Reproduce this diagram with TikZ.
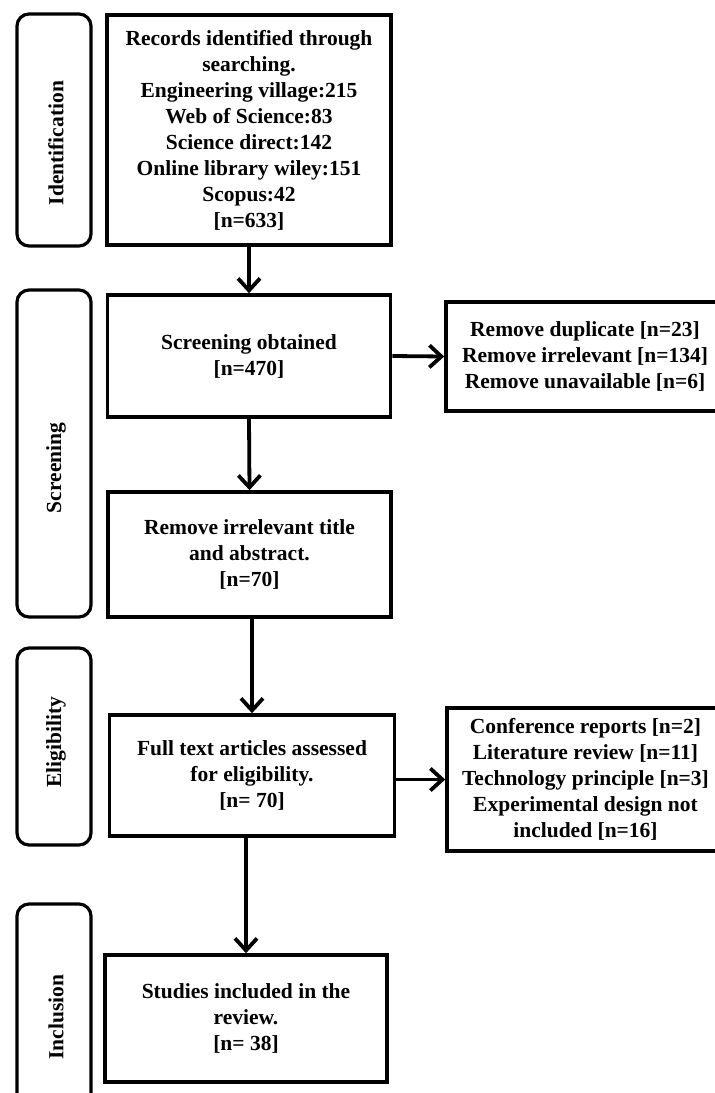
\documentclass[tikz,border=0pt]{standalone}
\usepackage{fontspec}
\setmainfont{Liberation Serif}
\usetikzlibrary{arrows.meta}
\begin{document}
\begin{tikzpicture}[x=1pt,y=-1pt,
  every node/.style={font=\bfseries\fontsize{21.5}{26}\selectfont, align=center, inner sep=0pt},
  mainbox/.style={draw, line width=3.6pt, rectangle},
  phasebox/.style={draw, line width=3.2pt, rounded corners=12pt, rectangle},
  phaselabel/.style={rotate=90},
  conn/.style={line width=3.8pt, -{Straight Barb[length=12pt,width=22pt,line width=3.8pt]}}
]
\useasboundingbox (0,0) rectangle (715,1093);
\fill[white] (0,0) rectangle (715,1093);

% phase boxes
\node[phasebox, minimum width=74pt, minimum height=232pt] (p1) at (54,130) {};
\node[phaselabel] (p1t) at (56,143) {Identification};
\node[phasebox, minimum width=74pt, minimum height=327pt] (p2) at (54,453.5) {};
\node[phaselabel] (p2t) at (56,468) {Screening};
\node[phasebox, minimum width=74pt, minimum height=197pt] (p3) at (54,746.5) {};
\node[phaselabel] (p3t) at (56,742) {Eligibility};
\node[phasebox, minimum width=74pt, minimum height=240pt] (p4) at (54,1024) {};
\node[phaselabel] (p4t) at (56,1017) {Inclusion};

% main boxes
\node[mainbox, minimum width=284pt, minimum height=230pt] (b1) at (249,130)
  {Records identified through\\searching.\\Engineering village:215\\Web of Science:83\\Science direct:142\\Online library wiley:151\\Scopus:42\\{[n=633]}};
\node[mainbox, minimum width=283pt, minimum height=122pt] (b2) at (249,356)
  {Screening obtained\\{[n=470]}};
\node[mainbox, minimum width=283pt, minimum height=125pt] (b3) at (249.5,554.5)
  {Remove irrelevant title\\and abstract.\\{[n=70]}};
\node[mainbox, minimum width=285pt, minimum height=121pt] (b4) at (252,775.5)
  {Full text articles assessed\\for eligibility.\\{[n= 70]}};
\node[mainbox, minimum width=282pt, minimum height=127pt] (b5) at (246,1018.5)
  {Studies included in the\\review.\\{[n= 38]}};

% side boxes
\node[mainbox, minimum width=278pt, minimum height=109pt] (r1) at (585,356.5)
  {Remove duplicate [n=23]\\Remove irrelevant [n=134]\\Remove unavailable [n=6]};
\node[mainbox, minimum width=277pt, minimum height=143pt] (r2) at (585.5,779.5)
  {Conference reports [n=2]\\Literature review [n=11]\\Technology principle [n=3]\\Experimental design not\\included [n=16]};

% connectors
\draw[conn] (b1.south) -- (b2.north);
\draw[conn] (b2.south) -- (b3.north);
\draw[conn] (b3.south -| b4.north) -- (b4.north);
\draw[conn] (b4.south -| b5.north) -- (b5.north);
\draw[conn] (b2.east) -- (r1.west);
\draw[conn] (b4.east |- r2.west) -- (r2.west);
\end{tikzpicture}
\end{document}
